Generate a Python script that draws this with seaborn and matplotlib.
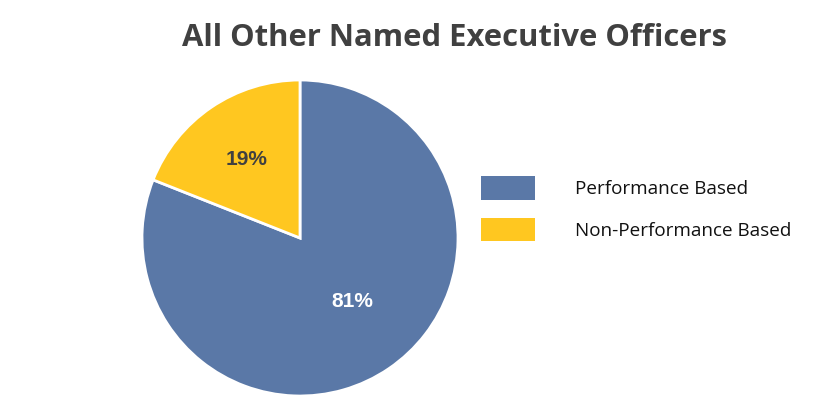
import matplotlib
matplotlib.use("Agg")
import matplotlib.pyplot as plt
import seaborn as sns
from matplotlib.patches import Patch

categories = ["Performance Based", "Non-Performance Based"]
values = [81, 19]
colors = ["#5A78A7", "#FFC720"]
title = "All Other Named Executive Officers"

sns.set_theme(style="white")
plt.rcParams['font.family'] = ['Open Sans', 'DejaVu Sans']

W, H = 824, 415
fig = plt.figure(figsize=(W / 100, H / 100), dpi=100)
fig.patch.set_facecolor("white")

cx, cy, r = 300, 238, 158
ax = fig.add_axes([(cx - r) / W, (H - cy - r) / H, 2 * r / W, 2 * r / H])
wedges, texts, autotexts = ax.pie(
    values, colors=colors, startangle=90, counterclock=False,
    autopct=lambda p: f"{p:.0f}%", pctdistance=0.6,
    wedgeprops=dict(edgecolor="white", linewidth=2),
    textprops=dict(family="Liberation Sans", fontweight="bold", fontsize=15),
)
ax.set_xlim(-1, 1)
ax.set_ylim(-1, 1)
ax.set_aspect("equal")
autotexts[0].set_color("white")
autotexts[0].set_position((0.33, -0.40))
autotexts[1].set_color("#404040")

fig.text(454 / W, 1 - 38 / H, title, ha="center", va="center",
         fontsize=22.3, fontweight="bold", color="#404040")

handles = [Patch(facecolor=c, edgecolor="none") for c in colors]
fs = 13.6
fig.legend(handles, categories, loc="upper left",
           bbox_to_anchor=(481 / W, 1 - 176 / H), frameon=False,
           fontsize=fs, handlelength=54 / (fs * 100 / 72),
           handleheight=1.55, handletextpad=2.1, labelspacing=0.95,
           borderpad=0, borderaxespad=0, labelcolor="#111111")

fig.savefig("out.png", dpi=100, facecolor="white")
